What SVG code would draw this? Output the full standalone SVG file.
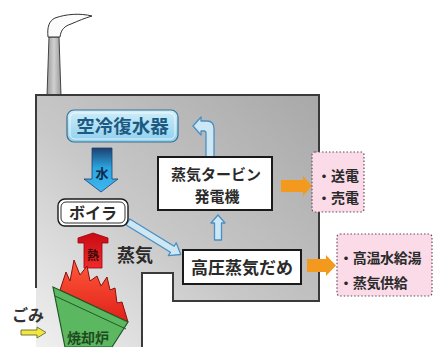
<svg xmlns="http://www.w3.org/2000/svg" width="434" height="347" viewBox="0 0 434 347">
  <defs>
    <linearGradient id="wallFill" x1="1" y1="0" x2="0" y2="1">
      <stop offset="0" stop-color="#a8a8a8"/>
      <stop offset="0.55" stop-color="#c8c8c8"/>
      <stop offset="1" stop-color="#f0f0f0"/>
    </linearGradient>
    <linearGradient id="stackFill" x1="0" y1="0" x2="1" y2="0">
      <stop offset="0" stop-color="#9a9a9a"/>
      <stop offset="0.5" stop-color="#d0d0d0"/>
      <stop offset="1" stop-color="#9a9a9a"/>
    </linearGradient>
    <linearGradient id="waterFill" x1="0" y1="0" x2="0" y2="1">
      <stop offset="0" stop-color="#1d3f6e"/>
      <stop offset="0.45" stop-color="#2aa6e0"/>
      <stop offset="1" stop-color="#3fb6f0"/>
    </linearGradient>
    <linearGradient id="heatFill" x1="0" y1="0" x2="0" y2="1">
      <stop offset="0" stop-color="#c80a14"/>
      <stop offset="1" stop-color="#f02a2a"/>
    </linearGradient>
    <linearGradient id="flameFill" x1="0" y1="0" x2="0" y2="1">
      <stop offset="0" stop-color="#ff5a3a"/>
      <stop offset="1" stop-color="#e0201a"/>
    </linearGradient>
    <linearGradient id="condFill" x1="0" y1="0" x2="0" y2="1">
      <stop offset="0" stop-color="#cfeefa"/>
      <stop offset="1" stop-color="#8fd0ee"/>
    </linearGradient>
    <style>
      .cjk { font-family: "Noto Sans CJK JP", "Noto Sans", sans-serif; font-weight: bold; }
      .box { fill: #ffffff; stroke: #1a1a1a; stroke-width: 2; }
      .pink { fill: #fbdbe8; stroke: #6a4a5a; stroke-width: 1.2; stroke-dasharray: 1.5 2; }
      .hollow { fill: #cde7f5; stroke: #4b8fc0; stroke-width: 1.3; stroke-linejoin: round; }
      .orange { fill: #f39a1e; }
      .label { fill: #2a2a2a; }
    </style>
  </defs>

  <!-- chimney with smoke -->
  <g id="chimney">
    <path d="M49,37 L59,37 L61,96 L47,96 Z" fill="url(#stackFill)" stroke="#444" stroke-width="1"/>
    <path d="M48,37 C47,27 49,21 55,18 C66,14 80,13 92,16 C85,18 78,21 71,24 C65,26 61,29 60,37 Z" fill="#fbfbfb" stroke="#333" stroke-width="1"/>
  </g>

  <!-- plant building -->
  <g id="building">
    <path d="M36,95 H319 V301 H173 V273 H142 V347 H36 Z" fill="url(#wallFill)"/>
    <path d="M36,288 V95 H319 V301 H173 V273 H142 V347" fill="none" stroke="#3a3a3a" stroke-width="2"/>
  </g>

  <!-- connectors -->
  <g id="connectors">
    <!-- turbine exhaust back to condenser -->
    <path class="hollow" d="M193,126 L201,117 L201,121 L207,121 Q214,121 214,129 L214,157 L206,157 L206,133 Q206,131 204,131 L201,131 L201,135 Z"/>
    <!-- water down to boiler -->
    <path d="M92,148 H112 V179 H118 L101,192 L84,179 H92 Z" fill="url(#waterFill)" stroke="#1d3f6e" stroke-width="0.8"/>
    <!-- heat up to boiler -->
    <path d="M93,233 L108,238 V243 H102 V268 H84 V243 H78 V238 Z" fill="url(#heatFill)" stroke="#9a0010" stroke-width="0.8"/>
    <!-- steam from boiler to accumulator -->
    <path class="hollow" transform="translate(128,222) rotate(31.6)" d="M0,-3.5 H52 V-7.5 L62,0 L52,7.5 V3.5 H0 Z"/>
    <!-- accumulator up to turbine -->
    <path class="hollow" d="M218,215 L225,223 H221.5 V240 H214.5 V223 H211 Z"/>
    <!-- outputs -->
    <path class="orange" d="M281,180 H303 V176 L312,186 L303,196 V192 H281 Z"/>
    <path class="orange" d="M307,259 H326 V255 L336,265.5 L326,276 V272 H307 Z"/>
    <!-- refuse in -->
    <path d="M21,330 H37 V327 L46,332.5 L37,338 V335 H21 Z" fill="#f2e640" stroke="#6a6a30" stroke-width="0.9"/>
  </g>

  <!-- air-cooled condenser -->
  <g id="condenser">
    <rect x="67" y="110" width="111" height="32" rx="7" fill="url(#condFill)" stroke="#3b6f90" stroke-width="1.2"/>
    <rect x="70" y="113" width="105" height="26" rx="5" fill="none" stroke="#ffffff" stroke-width="0.9" opacity="0.8"/>
    <text class="cjk" x="122.5" y="133" font-size="18.5" text-anchor="middle" fill="#1d5a82">空冷復水器</text>
  </g>

  <!-- water label -->
  <g id="water-label">
    <text class="cjk" x="102" y="178" font-size="13" text-anchor="middle" fill="#0f2a4a">水</text>
  </g>

  <!-- boiler -->
  <g id="boiler">
    <rect x="58" y="199" width="70" height="27" rx="7" fill="#ffffff" stroke="#1a1a1a" stroke-width="1.4"/>
    <rect x="61" y="202" width="64" height="21" rx="5" fill="none" stroke="#1a1a1a" stroke-width="0.9"/>
    <text class="cjk label" x="93" y="218.5" font-size="16" text-anchor="middle">ボイラ</text>
  </g>

  <!-- heat label -->
  <g id="heat-label">
    <text class="cjk" x="93" y="260" font-size="12" text-anchor="middle" fill="#3a0a0a">熱</text>
  </g>

  <!-- steam label -->
  <g id="steam-label">
    <text class="cjk label" x="117" y="262" font-size="18">蒸気</text>
  </g>

  <!-- steam turbine generator -->
  <g id="turbine">
    <rect class="box" x="158" y="157" width="114" height="53"/>
    <text class="cjk label" x="216" y="180" font-size="15" text-anchor="middle">蒸気タービン</text>
    <text class="cjk label" x="217" y="202" font-size="15" text-anchor="middle">発電機</text>
  </g>

  <!-- high-pressure steam accumulator -->
  <g id="accumulator">
    <rect class="box" x="183" y="250" width="118" height="34"/>
    <text class="cjk label" x="242" y="274" font-size="17" text-anchor="middle">高圧蒸気だめ</text>
  </g>

  <!-- power output -->
  <g id="power-out">
    <rect class="pink" x="312" y="152" width="52" height="60" rx="3"/>
    <text class="cjk label" x="317" y="181" font-size="14">・送電</text>
    <text class="cjk label" x="317" y="203" font-size="14">・売電</text>
  </g>

  <!-- heat supply output -->
  <g id="heat-out">
    <rect class="pink" x="337" y="234" width="95" height="62" rx="3"/>
    <text class="cjk label" x="339" y="263" font-size="14" letter-spacing="-0.3">・高温水給湯</text>
    <text class="cjk label" x="339" y="288" font-size="14" letter-spacing="-0.3">・蒸気供給</text>
  </g>

  <!-- incinerator with flames -->
  <g id="incinerator">
    <path d="M60,290 L66,272 L70,281 L74,260 L80,275 L87,266 L90,281 L97,276 L101,286 L107,277 L110,290 L115,288 L117,303 L122,302 L128,322 Z" fill="url(#flameFill)" stroke="#8a1010" stroke-width="1"/>
    <path d="M53,287 L128,322 L112,347 L65,347 Z" fill="#5cb860" stroke="#1e5a26" stroke-width="1.2"/>
    <path d="M55,296 L126,329" stroke="#1e5a26" stroke-width="1" fill="none"/>
    <text class="cjk" x="67" y="343" font-size="14" fill="#1e4a1e">焼却炉</text>
  </g>

  <!-- refuse label -->
  <g id="refuse">
    <text class="cjk" x="12" y="321" font-size="16" fill="#333333">ごみ</text>
  </g>
</svg>
